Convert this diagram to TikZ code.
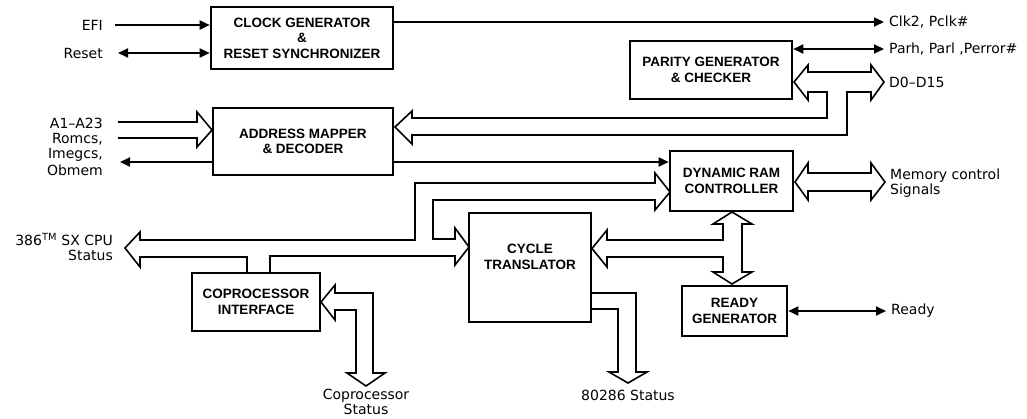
\documentclass[tikz,border=0pt]{standalone}
\usepackage{fontspec}
\setmainfont{DejaVu Sans}
\newfontfamily\boxfont{Liberation Sans}
\usetikzlibrary{arrows.meta}
\begin{document}
\begin{tikzpicture}[x=1pt,y=-1pt,
  blk/.style={draw,line width=2.6pt,align=center,inner sep=0pt,
    font=\boxfont\bfseries\fontsize{13.5}{15.5}\selectfont},
  lbl/.style={inner sep=0pt,font=\fontsize{14}{15.5}\selectfont},
  sig/.style={line width=1.8pt},
  tip/.style={-{Triangle[length=10pt,width=9pt]}},
  both/.style={{Triangle[length=10pt,width=9pt]}-{Triangle[length=10pt,width=9pt]}},
  bus/.style={line width=1.6pt,line join=miter}]
\useasboundingbox (0,0) rectangle (1027,418);

% blocks
\node[blk,minimum width=182pt,minimum height=62pt] (clk) at (302,38) {CLOCK GENERATOR\\\&\\RESET SYNCHRONIZER};
\node[blk,minimum width=162pt,minimum height=58pt] (par) at (711,70) {PARITY GENERATOR\\\& CHECKER};
\node[blk,minimum width=180pt,minimum height=67pt] (adr) at (303,141.5) {ADDRESS MAPPER\\\& DECODER};
\node[blk,minimum width=123pt,minimum height=60pt] (dram) at (731.5,181) {DYNAMIC RAM\\CONTROLLER};
\node[blk,minimum width=122pt,minimum height=109pt] (cyc) at (530,267.5) {CYCLE\\TRANSLATOR\\[6pt]};
\node[blk,minimum width=105pt,minimum height=50pt] (rdy) at (734.5,311) {READY\\GENERATOR};
\node[blk,minimum width=128pt,minimum height=58pt] (cop) at (256,302) {COPROCESSOR\\INTERFACE};

% labels
\node[lbl,anchor=east] (efi) at (103,25) {EFI};
\node[lbl,anchor=east] (reset) at (103,53) {Reset};
\node[lbl,anchor=east] (a1) at (103,123) {A1–A23};
\node[lbl,anchor=east] (romcs) at (103,139) {Romcs,};
\node[lbl,anchor=east] (imegcs) at (103,155) {Imegcs,};
\node[lbl,anchor=east] (obmem) at (103,170) {Obmem};
\node[lbl,anchor=east,align=right] (cpu) at (113,247) {386\textsuperscript{TM} SX CPU\\Status};
\node[lbl,anchor=west] (clko) at (889,22) {Clk2, Pclk\#};
\node[lbl,anchor=west] (parl) at (889,49) {Parh, Parl ,Perror\#};
\node[lbl,anchor=west] (dbus) at (889,82) {D0–D15};
\node[lbl,anchor=west,align=left] (mem) at (890,183) {Memory control\\Signals};
\node[lbl,anchor=west] (rdyl) at (891,311) {Ready};
\node[lbl,align=center] (cops) at (366,402) {Coprocessor\\Status};
\node[lbl] (st286) at (628,395) {80286 Status};

% single signals
\draw[sig,tip] ([xshift=12pt]efi.east) -- (efi.east -| clk.west);
\draw[sig,both] ([xshift=15pt]reset.east) -- (reset.east -| clk.west);
\draw[sig,tip] (clko.west -| clk.east) -- ([xshift=-5pt]clko.west);
\draw[sig,both] (parl.west -| par.east) -- ([xshift=-5pt]parl.west);
\coordinate (obout) at (120,162);
\draw[sig,tip] (adr.west |- obout) -- (obout);
\draw[sig,tip] (adr.east |- obout) -- (dram.west |- obout);
\draw[sig,both] (rdy.east) -- ([xshift=-5pt]rdyl.west);

% buses
% address inputs
\draw[bus] (118,122) -- (197,122) -- (197,112) -- (212,130) -- (197,147) -- (197,138) -- (118,138);
% D0-D15 and address mapper branch
\draw[bus] (395,127) -- (412,111) -- (412,118) -- (827,118) -- (827,92) -- (808,92) -- (808,100)
  -- (794,82) -- (808,65) -- (808,72) -- (871,72) -- (871,65) -- (884,82) -- (871,100) -- (871,92)
  -- (847,92) -- (847,135) -- (412,135) -- (412,144) -- cycle;
% CPU status / DRAM / translator / coprocessor
\draw[bus] (247,273) -- (247,257) -- (140,257) -- (140,267) -- (125,248) -- (140,232) -- (140,240)
  -- (415,240) -- (415,183) -- (655,183) -- (655,173) -- (670,192) -- (655,210) -- (655,200)
  -- (433,200) -- (433,239) -- (455,239) -- (455,228) -- (469,247) -- (455,265) -- (455,256)
  -- (270,256) -- (270,273);
% translator / DRAM / ready
\draw[bus] (723,240) -- (607,240) -- (607,230) -- (592,248.5) -- (607,267) -- (607,257) -- (723,257)
  -- (723,272) -- (713,272) -- (732,284) -- (752,272) -- (742,272) -- (742,224) -- (752,224)
  -- (732,212) -- (713,224) -- (723,224) -- cycle;
% memory control signals
\draw[bus] (795,182) -- (808,163) -- (808,173) -- (871,173) -- (871,163) -- (885,182) -- (871,200)
  -- (871,191) -- (808,191) -- (808,200) -- cycle;
% coprocessor status
\draw[bus] (321,302) -- (335,285) -- (335,293) -- (373,293) -- (373,373) -- (385,373) -- (366,386)
  -- (347,373) -- (356,373) -- (356,310) -- (335,310) -- (335,320) -- cycle;
% 80286 status
\draw[bus] (591,293) -- (636,293) -- (636,372) -- (647,372) -- (628,383) -- (609,372) -- (618,372)
  -- (618,309) -- (591,309);
\end{tikzpicture}
\end{document}
